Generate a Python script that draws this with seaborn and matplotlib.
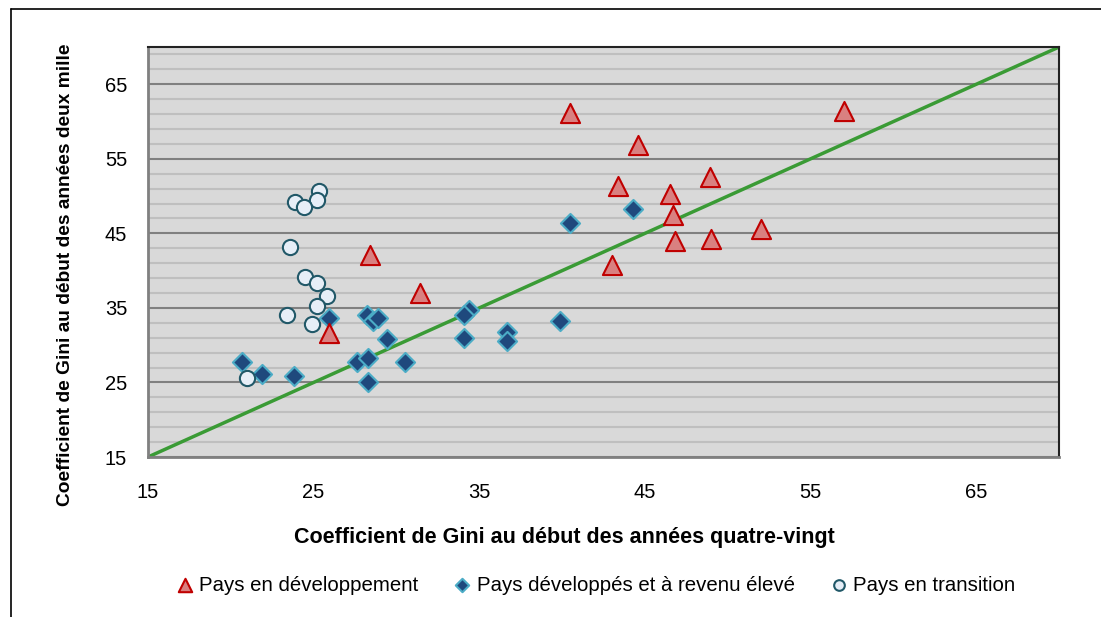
import numpy as np
import pandas as pd
import matplotlib
matplotlib.use('Agg')
import matplotlib.pyplot as plt
from matplotlib.ticker import FixedLocator
import seaborn as sns

# Gini values (x = early 1980s, y = early 2000s)
dev_x = [40.5, 44.6, 43.4, 48.9, 46.5, 46.7, 46.8, 49.0, 52.0, 57.0, 43.0, 28.4, 31.4, 25.9]
dev_y = [61.2, 56.9, 51.4, 52.6, 50.3, 47.5, 44.0, 44.2, 45.6, 61.4, 40.7, 42.1, 37.0, 31.7]

high_x = [20.7, 21.9, 23.8, 25.9, 28.2, 28.6, 28.9, 29.4, 27.6, 28.3,
          30.5, 28.3, 34.1, 34.4, 34.1, 36.7, 36.7, 40.5, 44.3, 39.9]
high_y = [27.8, 26.2, 25.9, 33.7, 34.0, 33.2, 33.6, 30.8, 27.7, 28.3,
          27.7, 25.1, 30.9, 34.7, 34.1, 31.8, 30.5, 46.4, 48.3, 33.3]

trans_x = [25.3, 25.2, 23.9, 24.4, 23.6, 24.5, 25.2, 25.8, 25.2, 23.4, 24.9, 21.0]
trans_y = [50.7, 49.5, 49.2, 48.6, 43.2, 39.1, 38.3, 36.6, 35.2, 34.1, 32.9, 25.6]

diag = [15, 70]
ticks = [15, 25, 35, 45, 55, 65]

sns.set_style('white')
plt.rcParams['font.family'] = ['Liberation Sans', 'DejaVu Sans']
plt.rcParams['text.color'] = 'black'
plt.rcParams['axes.labelcolor'] = 'black'
plt.rcParams['xtick.color'] = 'black'
plt.rcParams['ytick.color'] = 'black'

fig = plt.figure(figsize=(11.01, 6.17), dpi=100)
ax = fig.add_axes([0.1344, 0.2593, 0.8275, 0.6645])
ax.set_facecolor('#D9D9D9')

# diagonal y = x
sns.lineplot(x=diag, y=diag, ax=ax, color='#3A9B35', linewidth=2.5, zorder=2)

sns.scatterplot(x=dev_x, y=dev_y, ax=ax, marker='^', s=190, color='#D98080',
                edgecolor='#C00000', linewidth=1.5, label='Pays en développement', zorder=4)
sns.scatterplot(x=high_x, y=high_y, ax=ax, marker='D', s=95, color='#1F497D',
                edgecolor='#4BACC6', linewidth=1.5, label='Pays développés et à revenu élevé', zorder=3)
sns.scatterplot(x=trans_x, y=trans_y, ax=ax, marker='o', s=120, color='#E6EEF7',
                edgecolor='#215868', linewidth=1.5, label='Pays en transition', zorder=3)

ax.set_xlim(15, 70)
ax.set_ylim(15, 70)
ax.set_xticks(ticks)
ax.set_yticks(ticks)
ax.yaxis.set_minor_locator(FixedLocator(np.arange(17, 70, 2)))
ax.grid(False)
ax.grid(True, axis='y', which='minor', color='#BFBFBF', linewidth=1.5, zorder=0)
ax.grid(True, axis='y', which='major', color='#808080', linewidth=1.5, zorder=0)
ax.set_axisbelow(True)
ax.tick_params(axis='both', which='both', length=0, labelsize=14.5)
ax.tick_params(axis='x', pad=19)
ax.tick_params(axis='y', pad=15)

for side in ['left', 'bottom']:
    ax.spines[side].set_color('#808080')
    ax.spines[side].set_linewidth(2)
for side in ['top', 'right']:
    ax.spines[side].set_color('#222222')
    ax.spines[side].set_linewidth(1.5)

ax.set_xlabel('Coefficient de Gini au début des années quatre-vingt',
              fontsize=15.5, fontweight='bold')
ax.set_ylabel('Coefficient de Gini au début des années deux mille',
              fontsize=13.8, fontweight='bold')
ax.xaxis.set_label_coords(0.457, -0.171)
ax.yaxis.set_label_coords(-0.081, 0.444)

ax.legend(loc='upper center', bbox_to_anchor=(0.49, -0.245), ncol=3, frameon=False,
          fontsize=14.7, markerscale=0.7, handlelength=1.1, handletextpad=0.15,
          columnspacing=1.6)

# outer chart frame
fig.add_artist(plt.Line2D([11 / 1101, 1.0], [1 - 9 / 617, 1 - 9 / 617], color='black', linewidth=1.2))
fig.add_artist(plt.Line2D([11 / 1101, 11 / 1101], [0.0, 1 - 9 / 617], color='black', linewidth=1.2))

fig.savefig('out.png', dpi=100)
